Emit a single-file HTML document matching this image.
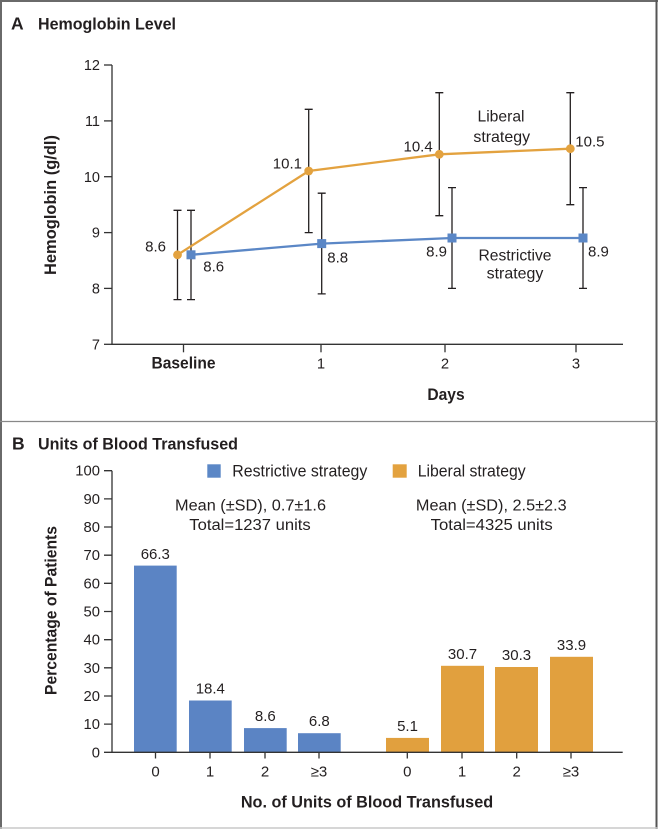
<!DOCTYPE html>
<html><head><meta charset="utf-8"><style>
html,body{margin:0;padding:0;background:#fff;}
svg{display:block;}
text{font-family:"Liberation Sans",Arial,sans-serif;fill:#231f20;}
.b{font-weight:bold;}
</style></head><body>
<svg width="658" height="829" viewBox="0 0 658 829" xmlns="http://www.w3.org/2000/svg">
<rect x="0" y="0" width="658" height="829" fill="#fff"/>
<!-- frame -->
<line x1="0" y1="1" x2="658" y2="1" stroke="#6a6a6a" stroke-width="2"/>
<line x1="1" y1="0" x2="1" y2="829" stroke="#6a6a6a" stroke-width="2"/>
<line x1="656.5" y1="0" x2="656.5" y2="829" stroke="#555" stroke-width="2"/>
<line x1="0" y1="828" x2="658" y2="828" stroke="#c8c8c8" stroke-width="1.5"/>
<line x1="0" y1="421.5" x2="658" y2="421.5" stroke="#888" stroke-width="1.2"/>

<!-- Panel A -->
<text x="11" y="29.3" class="b" font-size="17.5">A</text>
<text x="38" y="29.3" class="b" font-size="17" textLength="138" lengthAdjust="spacingAndGlyphs">Hemoglobin Level</text>

<g stroke="#333" stroke-width="1.3" fill="none">
<line x1="112" y1="65" x2="112" y2="344.3"/>
<line x1="111.4" y1="344.3" x2="623" y2="344.3"/>
<line x1="104" y1="65" x2="112" y2="65"/>
<line x1="104" y1="120.9" x2="112" y2="120.9"/>
<line x1="104" y1="176.7" x2="112" y2="176.7"/>
<line x1="104" y1="232.6" x2="112" y2="232.6"/>
<line x1="104" y1="288.4" x2="112" y2="288.4"/>
<line x1="104" y1="344.3" x2="112" y2="344.3"/>
<line x1="183.5" y1="344.3" x2="183.5" y2="352.3"/>
<line x1="321" y1="344.3" x2="321" y2="352.3"/>
<line x1="445" y1="344.3" x2="445" y2="352.3"/>
<line x1="576" y1="344.3" x2="576" y2="352.3"/>
</g>
<g font-size="14.5" text-anchor="end">
<text x="100" y="70">12</text>
<text x="100" y="126">11</text>
<text x="100" y="182">10</text>
<text x="100" y="237.5">9</text>
<text x="100" y="293.5">8</text>
<text x="100" y="349.3">7</text>
</g>
<text x="183.5" y="368.3" class="b" font-size="16.3" text-anchor="middle" textLength="64" lengthAdjust="spacingAndGlyphs">Baseline</text>
<g font-size="14.8" text-anchor="middle">
<text x="321" y="368.3">1</text>
<text x="445" y="368.3">2</text>
<text x="576" y="368.3">3</text>
</g>
<text x="446" y="400" class="b" font-size="16.5" text-anchor="middle" textLength="37.3" lengthAdjust="spacingAndGlyphs">Days</text>
<text transform="translate(56,205) rotate(-90)" class="b" font-size="17" text-anchor="middle" textLength="140" lengthAdjust="spacingAndGlyphs">Hemoglobin (g/dl)</text>

<!-- error bars -->
<g stroke="#231f20" stroke-width="1.3" fill="none">
<path d="M177.5 210.3V299.6M173.5 210.3H181.5M173.5 299.6H181.5"/>
<path d="M191 210.3V299.6M187 210.3H195M187 299.6H195"/>
<path d="M308.7 109.3V232.6M304.7 109.3H312.7M304.7 232.6H312.7"/>
<path d="M321.7 193.2V293.9M317.7 193.2H325.7M317.7 293.9H325.7"/>
<path d="M439.3 92.7V215.7M435.3 92.7H443.3M435.3 215.7H443.3"/>
<path d="M452 187.6V288.4M448 187.6H456M448 288.4H456"/>
<path d="M570.3 92.7V204.7M566.3 92.7H574.3M566.3 204.7H574.3"/>
<path d="M583 187.6V288.4M579 187.6H587M579 288.4H587"/>
</g>
<!-- lines -->
<polyline points="177.5,254.8 308.7,171 439.3,154.3 570.3,148.7" fill="none" stroke="#e3a23f" stroke-width="2.3"/>
<polyline points="191,254.8 321.7,243.6 452,238 583,238" fill="none" stroke="#5b87c6" stroke-width="2.3"/>
<g fill="#e3a23f">
<circle cx="177.5" cy="254.8" r="4.4"/>
<circle cx="308.7" cy="171" r="4.4"/>
<circle cx="439.3" cy="154.3" r="4.4"/>
<circle cx="570.3" cy="148.7" r="4.4"/>
</g>
<g fill="#5b87c6">
<rect x="186.5" y="250.3" width="9" height="9"/>
<rect x="317.2" y="239.1" width="9" height="9"/>
<rect x="447.5" y="233.5" width="9" height="9"/>
<rect x="578.5" y="233.5" width="9" height="9"/>
</g>
<g font-size="15">
<text x="166" y="251.7" text-anchor="end">8.6</text>
<text x="203.3" y="271.7">8.6</text>
<text x="302" y="168.3" text-anchor="end">10.1</text>
<text x="327.3" y="262.3">8.8</text>
<text x="432.7" y="151.7" text-anchor="end">10.4</text>
<text x="447" y="256.7" text-anchor="end">8.9</text>
<text x="575.3" y="146.7">10.5</text>
<text x="588" y="256.7">8.9</text>
</g>
<g font-size="16" text-anchor="middle">
<text x="501" y="121.7" textLength="47" lengthAdjust="spacingAndGlyphs">Liberal</text>
<text x="501.7" y="142" textLength="56.7" lengthAdjust="spacingAndGlyphs">strategy</text>
<text x="515" y="260.7" textLength="73" lengthAdjust="spacingAndGlyphs">Restrictive</text>
<text x="515" y="278.5" textLength="56.7" lengthAdjust="spacingAndGlyphs">strategy</text>
</g>

<!-- Panel B -->
<text x="12" y="449.3" class="b" font-size="17.5">B</text>
<text x="38" y="449.3" class="b" font-size="17" textLength="200" lengthAdjust="spacingAndGlyphs">Units of Blood Transfused</text>

<rect x="207.3" y="464.3" width="13.4" height="13.4" fill="#5b87c6"/>
<text x="232.3" y="476.7" font-size="16.5" textLength="135" lengthAdjust="spacingAndGlyphs">Restrictive strategy</text>
<rect x="392.7" y="464.3" width="14" height="13.4" fill="#e3a23f"/>
<text x="417.7" y="476.7" font-size="16.5" textLength="108" lengthAdjust="spacingAndGlyphs">Liberal strategy</text>

<g font-size="15.5" text-anchor="middle">
<text x="250.5" y="510.5" textLength="151" lengthAdjust="spacingAndGlyphs">Mean (±SD), 0.7±1.6</text>
<text x="250" y="530" textLength="121.4" lengthAdjust="spacingAndGlyphs">Total=1237 units</text>
<text x="491.3" y="510.5" textLength="150.7" lengthAdjust="spacingAndGlyphs">Mean (±SD), 2.5±2.3</text>
<text x="491.7" y="530" textLength="122" lengthAdjust="spacingAndGlyphs">Total=4325 units</text>
</g>

<!-- bars -->
<g fill="#5b84c4">
<rect x="134" y="565.6" width="42.7" height="186.7"/>
<rect x="189" y="700.5" width="42.7" height="51.8"/>
<rect x="244" y="728.1" width="42.7" height="24.2"/>
<rect x="298" y="733.2" width="42.7" height="19.1"/>
</g>
<g fill="#e1a03e">
<rect x="386" y="737.9" width="43" height="14.4"/>
<rect x="441" y="665.8" width="43" height="86.5"/>
<rect x="495" y="667" width="43" height="85.3"/>
<rect x="550" y="656.8" width="43" height="95.5"/>
</g>

<g stroke="#333" stroke-width="1.3" fill="none">
<line x1="112" y1="470.7" x2="112" y2="752.3"/>
<line x1="111.4" y1="752.3" x2="622.7" y2="752.3"/>
<path d="M104 470.7H112M104 498.9H112M104 527H112M104 555.2H112M104 583.3H112M104 611.5H112M104 639.7H112M104 667.8H112M104 696H112M104 724.1H112M104 752.3H112"/>
<path d="M155.5 752.3V758.5M210 752.3V758.5M265 752.3V758.5M319 752.3V758.5M407.3 752.3V758.5M462 752.3V758.5M516.7 752.3V758.5M571 752.3V758.5"/>
</g>
<g font-size="14.8" text-anchor="end">
<text x="100" y="475.7">100</text>
<text x="100" y="503.9">90</text>
<text x="100" y="532">80</text>
<text x="100" y="560.2">70</text>
<text x="100" y="588.3">60</text>
<text x="100" y="616.5">50</text>
<text x="100" y="644.7">40</text>
<text x="100" y="672.8">30</text>
<text x="100" y="701">20</text>
<text x="100" y="729.1">10</text>
<text x="100" y="757.3">0</text>
</g>
<g font-size="15" text-anchor="middle">
<text x="155.3" y="559">66.3</text>
<text x="210.3" y="693.3">18.4</text>
<text x="265.3" y="721">8.6</text>
<text x="319.3" y="726">6.8</text>
<text x="407.5" y="731">5.1</text>
<text x="462.5" y="659">30.7</text>
<text x="516.5" y="660">30.3</text>
<text x="571.5" y="650">33.9</text>
</g>
<g font-size="15" text-anchor="middle">
<text x="155.5" y="776.7">0</text>
<text x="210" y="776.7">1</text>
<text x="265" y="776.7">2</text>
<text x="319" y="776.7">≥3</text>
<text x="407.3" y="776.7">0</text>
<text x="462" y="776.7">1</text>
<text x="516.7" y="776.7">2</text>
<text x="571" y="776.7">≥3</text>
</g>
<text x="367" y="807.7" class="b" font-size="17" text-anchor="middle" textLength="252.3" lengthAdjust="spacingAndGlyphs">No. of Units of Blood Transfused</text>
<text transform="translate(56.5,610.5) rotate(-90)" class="b" font-size="17" text-anchor="middle" textLength="169" lengthAdjust="spacingAndGlyphs">Percentage of Patients</text>
</svg>
</body></html>
